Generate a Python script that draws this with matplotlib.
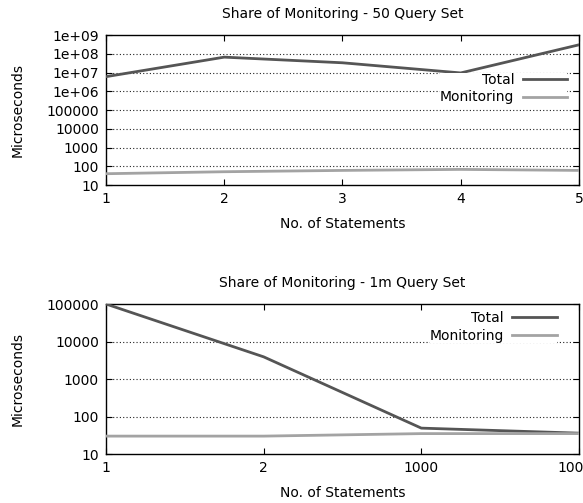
import matplotlib
matplotlib.use('Agg')
import matplotlib.pyplot as plt

# data
x_50 = ['1', '2', '3', '4', '5']
total_50 = [6.0e6, 6.6e7, 3.3e7, 9.5e6, 3.0e8]
monitor_50 = [40, 51, 60, 68, 60]
yticks_50 = [10, 100, 1000, 10000, 100000, 1e6, 1e7, 1e8, 1e9]
ylabels_50 = ['10', '100', '1000', '10000', '100000', '1e+06', '1e+07', '1e+08', '1e+09']

x_1m = ['1', '2', '1000', '10000']
total_1m = [100000, 3900, 49, 36]
monitor_1m = [30, 30, 35, 35]
yticks_1m = [10, 100, 1000, 10000, 100000]
ylabels_1m = ['10', '100', '1000', '10000', '100000']

c_total = '#555555'
c_mon = '#a3a3a3'

plt.rcParams['font.family'] = 'DejaVu Sans'
plt.rcParams['font.size'] = 10

fig = plt.figure(figsize=(5.83, 5.03), dpi=100)
ax1 = fig.add_axes([0.1818, 0.6322, 0.8113, 0.2982])
ax2 = fig.add_axes([0.1818, 0.0974, 0.8113, 0.2982])


def draw(ax, cats, total, mon, yt, yl, title, leg_anchor):
    pos = list(range(len(cats)))
    ax.plot(pos, total, color=c_total, lw=2.0, label='Total', zorder=3)
    ax.plot(pos, mon, color=c_mon, lw=2.0, label='Monitoring', zorder=3)
    ax.set_yscale('log')
    ax.set_ylim(yt[0], yt[-1])
    ax.set_xlim(0, len(cats) - 1)
    ax.set_yticks(yt)
    ax.set_yticklabels(yl)
    ax.minorticks_off()
    ax.set_xticks(pos)
    ax.set_xticklabels(cats)
    ax.tick_params(direction='in', top=True, right=True, length=4, width=0.8, pad=5)
    # dotted horizontal grid like gnuplot
    for y in yt[1:-1]:
        ax.axhline(y, color='#222222', lw=0.8, ls=(0, (1, 2)), zorder=1)
    for s in ax.spines.values():
        s.set_linewidth(1.0)
    ax.set_title(title, fontsize=10, pad=12)
    ax.set_xlabel('No. of Statements', labelpad=8)
    ax.set_ylabel('Microseconds', labelpad=16)
    ax.legend(loc='upper right', bbox_to_anchor=leg_anchor, frameon=True,
              facecolor='white', edgecolor='none', framealpha=1, fancybox=False,
              borderpad=0, borderaxespad=0, handlelength=3.2, handletextpad=0.6,
              labelspacing=0.25, markerfirst=False, fontsize=10)


draw(ax1, x_50, total_50, monitor_50, yticks_50, ylabels_50,
     'Share of Monitoring - 50 Query Set', (0.975, 0.747))
draw(ax2, x_1m, total_1m, monitor_1m, yticks_1m, ylabels_1m,
     'Share of Monitoring - 1m Query Set', (0.953, 0.953))

fig.savefig('out.png', dpi=100)
